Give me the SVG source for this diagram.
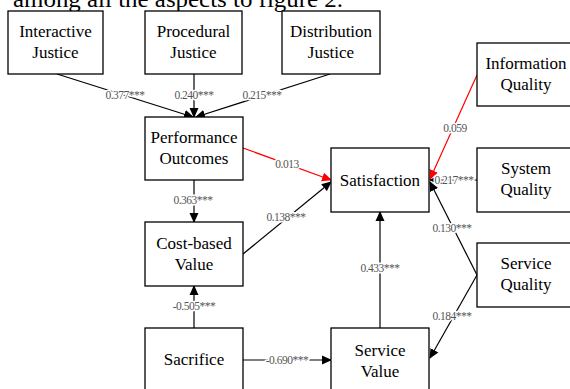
<svg xmlns="http://www.w3.org/2000/svg" width="570" height="389" viewBox="0 0 570 389">
<defs>
<style>
.box{fill:#fff;stroke:#000;stroke-width:1.3}
.t{font-family:'Liberation Serif',serif;font-size:17px;fill:#000;text-anchor:middle}
.c{fill:none;stroke:#000;stroke-width:1.2}
.r{stroke:#f00}
.l{font-family:'Liberation Serif',serif;font-size:11.5px;fill:#555;text-anchor:middle;letter-spacing:-0.5px;paint-order:stroke;stroke:#fff;stroke-width:3px;stroke-linejoin:round}
</style>
<marker id="ah" markerWidth="10" markerHeight="10" refX="9" refY="5" orient="auto" markerUnits="userSpaceOnUse">
<path d="M0,0.5 L10,5 L0,9.5 Z" fill="#000"/>
</marker>
<marker id="ahr" markerWidth="10" markerHeight="10" refX="9" refY="5" orient="auto" markerUnits="userSpaceOnUse">
<path d="M0,0.5 L10,5 L0,9.5 Z" fill="#f00"/>
</marker>
</defs>
<rect width="570" height="389" fill="#fff"/>
<text x="13" y="7" font-family="Liberation Serif, serif" font-size="24" textLength="330" lengthAdjust="spacingAndGlyphs">among all the aspects to figure 2.</text>

<g id="connectors">
<line class="c" x1="57" y1="74" x2="193" y2="117" marker-end="url(#ah)"/>
<line class="c" x1="194" y1="74" x2="194" y2="117" marker-end="url(#ah)"/>
<line class="c" x1="330" y1="74" x2="196" y2="117" marker-end="url(#ah)"/>
<line class="c r" x1="243" y1="148" x2="331" y2="180" marker-end="url(#ahr)"/>
<line class="c" x1="194" y1="180" x2="194" y2="222" marker-end="url(#ah)"/>
<line class="c" x1="243" y1="254" x2="331" y2="182" marker-end="url(#ah)"/>
<line class="c r" x1="477" y1="75" x2="430" y2="179" marker-end="url(#ahr)"/>
<line class="c" x1="477" y1="180" x2="430" y2="180" marker-end="url(#ah)"/>
<line class="c" x1="477" y1="275" x2="430" y2="182" marker-end="url(#ah)"/>
<line class="c" x1="477" y1="275" x2="430" y2="358" marker-end="url(#ah)"/>
<line class="c" x1="380" y1="328" x2="380" y2="212" marker-end="url(#ah)"/>
<line class="c" x1="194" y1="328" x2="194" y2="286" marker-end="url(#ah)"/>
<line class="c" x1="243" y1="360" x2="331" y2="360" marker-end="url(#ah)"/>
<text class="l" x="125" y="99">0.377***</text>
<text class="l" x="194" y="99">0.240***</text>
<text class="l" x="262" y="99">0.215***</text>
<text class="l" x="287" y="168">0.013</text>
<text class="l" x="193" y="204">0.363***</text>
<text class="l" x="286" y="221">0.138***</text>
<text class="l" x="455" y="132">0.059</text>
<text class="l" x="454" y="184">0.217***</text>
<text class="l" x="452" y="232">0.130***</text>
<text class="l" x="452" y="320">0.184***</text>
<text class="l" x="380" y="272">0.433***</text>
<text class="l" x="194" y="310">-0.505***</text>
<text class="l" x="287" y="364">-0.690***</text>
</g>

<g id="interactive-justice"><rect class="box" x="8" y="11" width="95" height="63"/><text class="t" x="55.5" y="37">Interactive</text><text class="t" x="55.5" y="58">Justice</text></g>
<g id="procedural-justice"><rect class="box" x="145" y="11" width="97" height="63"/><text class="t" x="193.5" y="37">Procedural</text><text class="t" x="193.5" y="58">Justice</text></g>
<g id="distribution-justice"><rect class="box" x="282" y="11" width="98" height="63"/><text class="t" x="331" y="37">Distribution</text><text class="t" x="331" y="58">Justice</text></g>
<g id="information-quality"><rect class="box" x="477" y="43" width="100" height="63"/><text class="t" x="526" y="69">Information</text><text class="t" x="526" y="90">Quality</text></g>
<g id="performance-outcomes"><rect class="box" x="145" y="117" width="98" height="63"/><text class="t" x="194" y="143">Performance</text><text class="t" x="194" y="164">Outcomes</text></g>
<g id="cost-based-value"><rect class="box" x="145" y="222" width="98" height="64"/><text class="t" x="194" y="249">Cost-based</text><text class="t" x="194" y="270">Value</text></g>
<g id="satisfaction"><rect class="box" x="331" y="148" width="98" height="64"/><text class="t" x="380" y="186">Satisfaction</text></g>
<g id="system-quality"><rect class="box" x="477" y="148" width="100" height="64"/><text class="t" x="526" y="174">System</text><text class="t" x="526" y="195">Quality</text></g>
<g id="service-quality"><rect class="box" x="477" y="243" width="100" height="64"/><text class="t" x="526" y="269">Service</text><text class="t" x="526" y="290">Quality</text></g>
<g id="sacrifice"><rect class="box" x="145" y="328" width="98" height="66"/><text class="t" x="194" y="365">Sacrifice</text></g>
<g id="service-value"><rect class="box" x="331" y="328" width="98" height="66"/><text class="t" x="380" y="356" fill="#333">Service</text><text class="t" x="380" y="377">Value</text></g>
</svg>
